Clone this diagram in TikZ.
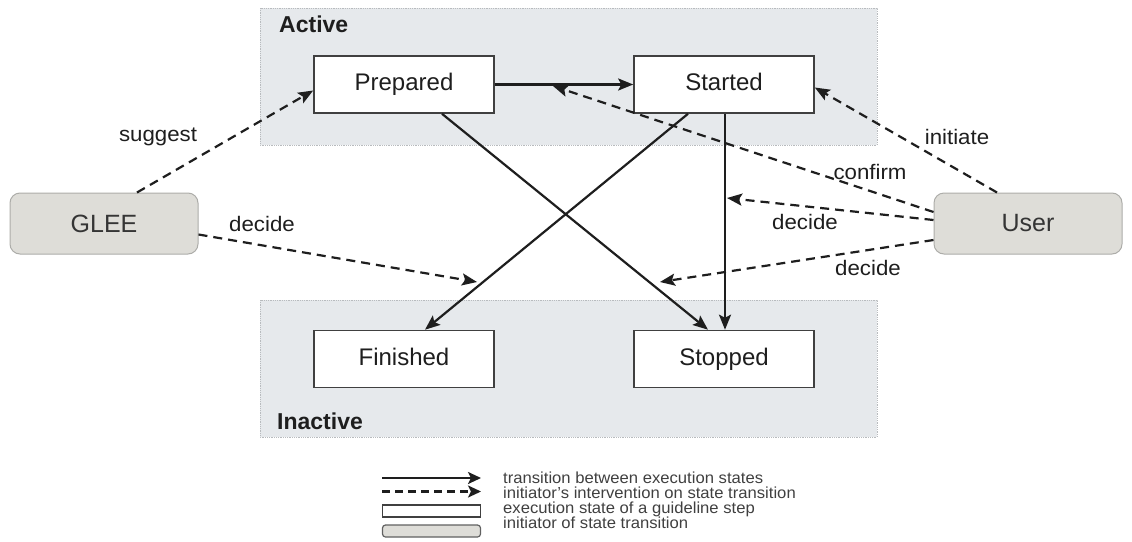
\documentclass[tikz,border=0pt]{standalone}
\usepackage{fontspec}
\setmainfont{Liberation Sans}
\newfontfamily\lblfont[FakeStretch=1.06]{Liberation Sans}
\newfontfamily\legfont[FakeStretch=1.04]{Liberation Sans}
\usetikzlibrary{arrows.meta}
\definecolor{regionfill}{HTML}{E6E9EC}
\definecolor{regionedge}{HTML}{B8BBBE}
\definecolor{initfill}{HTML}{DEDDD8}
\definecolor{initedge}{HTML}{ADADA9}
\definecolor{ink}{HTML}{1E1E1E}

\begin{document}
\begin{tikzpicture}[x=1pt,y=-1pt,
  region/.style={fill=regionfill, draw=regionedge, densely dotted, line width=0.8pt},
  statebox/.style={draw=ink!85, fill=white, line width=1.6pt, minimum width=180pt,
    minimum height=57pt, inner sep=0pt, text height=17.5pt, text depth=5pt,
    font=\fontsize{24}{28}\selectfont, text=ink},
  initiator/.style={draw=initedge, fill=initfill, rounded corners=10pt, line width=1pt,
    minimum width=188pt, minimum height=61pt, inner sep=0pt,
    font=\fontsize{25}{29}\selectfont, text=ink!90},
  flow/.style={draw=ink, line width=2.2pt, -{Stealth[length=15pt,width=12pt,inset=3pt]}},
  intervene/.style={flow, dash pattern=on 9pt off 6pt},
  lbl/.style={font=\lblfont\fontsize{21}{25}\selectfont, text=ink, inner sep=0pt},
  zone/.style={font=\bfseries\fontsize{23}{27}\selectfont, text=ink, inner sep=0pt, anchor=base west},
  legtext/.style={font=\legfont\fontsize{16}{18}\selectfont, text=ink!85, inner sep=0pt, anchor=base west},
  legflow/.style={draw=ink, line width=2.4pt, -{Stealth[length=13pt,width=12pt,inset=3pt]}},
]
\fill[white] (0,0) rectangle (1132,541);
\useasboundingbox (0,0) rectangle (1132,541);

% activity regions
\path[region] (260,8) rectangle (877,145);
\path[region] (260,300) rectangle (877,437);
\node[zone] (active) at (279,32) {Active};
\node[zone] (inactive) at (277,429) {Inactive};

% execution states
\node[statebox] (prepared) at (404,84.5) {Prepared};
\node[statebox] (started)  at (724,84.5) {Started};
\node[statebox] (finished) at (404,359) {Finished};
\node[statebox] (stopped)  at (724,359) {Stopped};

% initiators
\node[initiator] (glee) at (104,223.5) {GLEE};
\node[initiator] (user) at (1028,223.5) {User};

% transitions between states
\draw[flow] (prepared.east) -- (started.west);
\draw[flow] ([xshift=38pt]prepared.south) -- ([xshift=-16pt]stopped.north);
\draw[flow] ([xshift=-36pt]started.south) -- ([xshift=21pt]finished.north);
\draw[flow] ([xshift=1pt]started.south) -- ([xshift=1pt]stopped.north);

% points on transitions where an initiator intervenes
\coordinate (onPS) at (553,86);
\coordinate (onSStop) at (727,198);
\coordinate (onSFin) at (477,282);
\coordinate (onPStop) at (660,282);

% interventions
\draw[intervene] ([xshift=33pt]glee.north) -- ([yshift=-6pt]prepared.west);
\draw[intervene] ([yshift=-11pt]glee.east) -- (onSFin);
\draw[intervene] ([xshift=-31pt]user.north) -- ([yshift=-3pt]started.east);
\draw[intervene] ([yshift=11.5pt]user.west) -- (onPS);
\draw[intervene] ([yshift=3.5pt]user.west) -- (onSStop);
\draw[intervene] ([yshift=-16.5pt]user.west) -- (onPStop);

% labels
\node[lbl] (lsuggest) at (158,137) {suggest};
\node[lbl] (ldecideg) at (262,224) {decide};
\node[lbl] (linitiate) at (957,137) {initiate};
\node[lbl] (lconfirm) at (870,172) {confirm};
\node[lbl] (ldecideu) at (805,222) {decide};
\node[lbl] (ldecidel) at (868,268) {decide};

% legend
\coordinate (ls1) at (382,478); \coordinate (le1) at (481,478);
\coordinate (ls2) at (382,491.5); \coordinate (le2) at (481,491.5);
\draw[legflow] (ls1) -- (le1);
\draw[legflow, dash pattern=on 8pt off 5pt] (ls2) -- (le2);
\node[draw=ink!85, fill=white, line width=1.2pt, minimum width=98pt, minimum height=12pt,
  inner sep=0pt] (legstate) at (431.5,511) {};
\node[draw=ink!70, fill=initfill, rounded corners=3pt, line width=1.2pt, minimum width=98pt,
  minimum height=12pt, inner sep=0pt] (leginit) at (431.5,531) {};
\node[legtext] (lt1) at (503,483) {transition between execution states};
\node[legtext] (lt2) at (503,498) {initiator’s intervention on state transition};
\node[legtext] (lt3) at (503,513) {execution state of a guideline step};
\node[legtext] (lt4) at (503,528) {initiator of state transition};
\end{tikzpicture}
\end{document}
